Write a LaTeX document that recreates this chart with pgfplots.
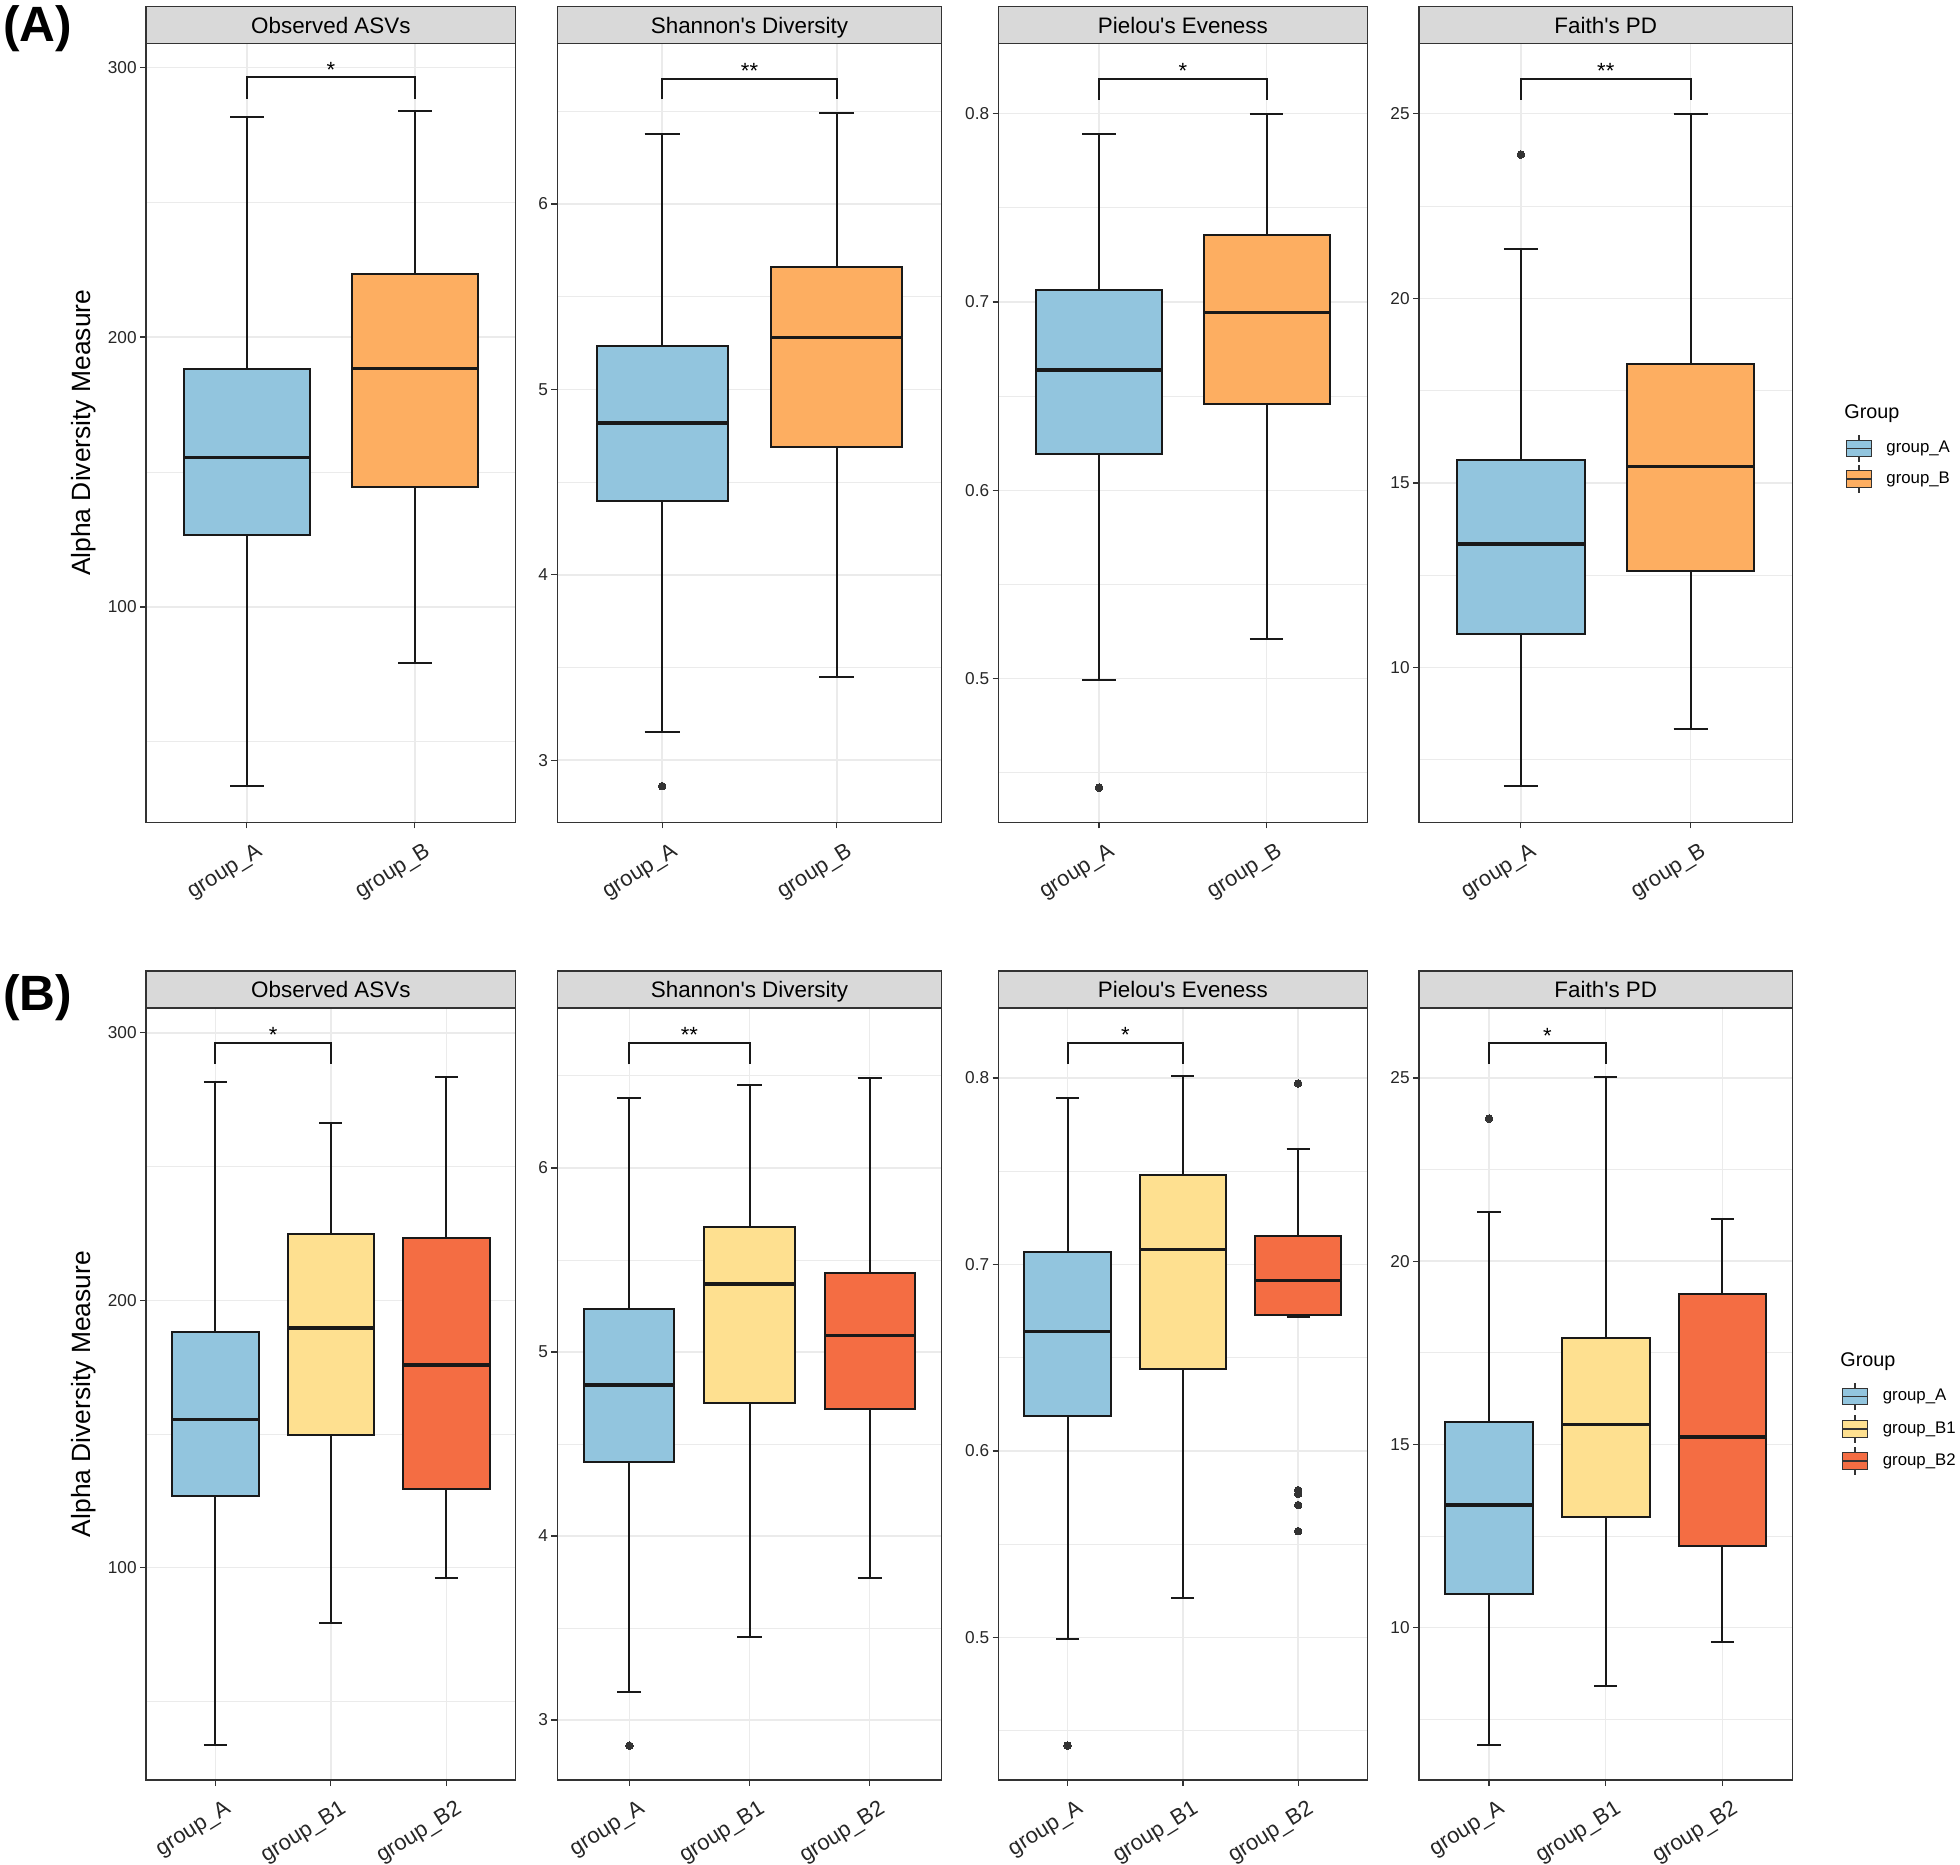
\documentclass[border=0pt]{standalone}
\usepackage{fontspec}
\setmainfont{Liberation Sans}
\usepackage{pgfplots}
\pgfplotsset{compat=1.18}
\usepgfplotslibrary{statistics}

\definecolor{cA}{HTML}{92C5DE}
\definecolor{cB}{HTML}{FDAE61}
\definecolor{cBa}{HTML}{FEE090}
\definecolor{cBb}{HTML}{F46D43}
\definecolor{gray20}{HTML}{333333}
\definecolor{grid92}{HTML}{EBEBEB}
\definecolor{stripgray}{HTML}{D9D9D9}

\newcommand\ticksize{\fontsize{8.6}{10}\selectfont}
\newcommand\xlabsize{\fontsize{11}{13}\selectfont}
\newcommand\stripsize{\fontsize{11.2}{13}\selectfont}
\newcommand\starsize{\fontsize{11}{13}\selectfont}
\newcommand\q{\textquotesingle}

\pgfplotsset{
  panel/.style={
    scale only axis, anchor=north west, clip=false,
    axis line style={draw=gray20, line width=0.6pt},
    xtick pos=bottom, ytick pos=left,
    tick align=outside, major tick length=3pt, minor tick length=0pt,
    tick style={draw=gray20, line width=0.6pt},
    ymajorgrids, yminorgrids, xmajorgrids,
    major grid style={draw=grid92, line width=0.7pt},
    minor grid style={draw=grid92, line width=0.4pt},
    yticklabel style={font=\ticksize, text=black!85, inner sep=1.5pt},
    xticklabel style={font=\xlabsize, text=black!85, xshift=4.5pt, yshift=-5pt,
      rotate=32, anchor=north east, inner sep=1pt},
    /pgf/number format/assume math mode=true,
    boxplot/draw direction=y,
    boxplot/box extend=0.75, boxplot/whisker extend=0.2,
    boxplot/every box/.style={line width=1pt},
    boxplot/every whisker/.style={line width=1pt},
    boxplot/every median/.style={line width=1.8pt},
  },
  bx/.style n args={6}{boxplot prepared={draw position=#1, lower whisker=#2,
    lower quartile=#3, median=#4, upper quartile=#5, upper whisker=#6},
    draw=black!90, line width=1pt, mark=*, mark size=1.9pt,
    mark options={fill=gray20, draw=gray20, line width=0pt}},
  brk/.style={draw=black!90, line width=1pt},
}

% strip on top of a named panel
\newcommand\strip[2]{%
  \draw[draw=gray20, fill=stripgray, line width=0.6pt] (#1.north west) rectangle ([yshift=18.5pt]#1.north east);
  \node[font=\stripsize, anchor=base, inner sep=0pt] at ([yshift=5pt]#1.north) {#2};}
\newcommand\sig[3]{\node[font=\starsize, anchor=base, inner sep=0pt] at (axis cs:#1,#2) {#3};}
\newcommand\key[3]{%
  \begin{scope}[shift={(#1,#2)}]
    \draw[gray20, line width=0.6pt] (0,-6.8pt) -- (0,6.8pt);
    \draw[fill=#3, draw=gray20, line width=0.6pt] (-6.2pt,-4.1pt) rectangle (6.2pt,4.1pt);
    \draw[gray20, line width=0.6pt] (-6.2pt,0) -- (6.2pt,0);
  \end{scope}}

\begin{document}
\begin{tikzpicture}
\useasboundingbox (0,0) rectangle (980pt,932pt);

%% ---------------- (A) ----------------
\begin{axis}[panel, name=a1, at={(73pt,910.25pt)}, width=184.85pt, height=389.4pt,
  xmin=0.4, xmax=2.6, ymin=20.2, ymax=308.8,
  xtick={1,2}, xticklabels={group\_A,group\_B},
  ytick={100,200,300}, minor ytick={50,150,250}]
\addplot[bx={1}{33.7}{126.7}{155.4}{188.2}{281.6}, fill=cA] coordinates {};
\addplot[bx={2}{79.4}{144.6}{188.4}{223.5}{283.6}, fill=cB] coordinates {};
\addplot[brk] coordinates {(1,288.4) (1,296.3) (2,296.3) (2,288.4)};
\sig{1.5}{296.3}{*}
\end{axis}

\begin{axis}[panel, name=a2, at={(278.65pt,910.25pt)}, width=192.2pt, height=389.4pt,
  xmin=0.4, xmax=2.6, ymin=2.665, ymax=6.866,
  xtick={1,2}, xticklabels={group\_A,group\_B},
  ytick={3,4,5,6}, minor ytick={3.5,4.5,5.5,6.5}]
\addplot[bx={1}{3.15}{4.40}{4.82}{5.235}{6.38}, fill=cA] coordinates {(1,2.86)};
\addplot[bx={2}{3.45}{4.69}{5.28}{5.66}{6.49}, fill=cB] coordinates {};
\addplot[brk] coordinates {(1,6.565) (1,6.675) (2,6.675) (2,6.565)};
\sig{1.5}{6.675}{**}
\end{axis}

\begin{axis}[panel, name=a3, at={(499.25pt,910.25pt)}, width=184.4pt, height=389.4pt,
  xmin=0.4, xmax=2.6, ymin=0.4236, ymax=0.8373,
  xtick={1,2}, xticklabels={group\_A,group\_B},
  ytick={0.5,0.6,0.7,0.8}, minor ytick={0.45,0.55,0.65,0.75}]
\addplot[bx={1}{0.499}{0.619}{0.664}{0.7065}{0.789}, fill=cA] coordinates {(1,0.442)};
\addplot[bx={2}{0.521}{0.646}{0.6945}{0.7356}{0.800}, fill=cB] coordinates {};
\addplot[brk] coordinates {(1,0.8073) (1,0.8185) (2,0.8185) (2,0.8073)};
\sig{1.5}{0.8185}{*}
\end{axis}

\begin{axis}[panel, name=a4, at={(709.5pt,910.25pt)}, width=186.75pt, height=389.4pt,
  xmin=0.4, xmax=2.6, ymin=5.81, ymax=26.90,
  xtick={1,2}, xticklabels={group\_A,group\_B},
  ytick={10,15,20,25}, minor ytick={7.5,12.5,17.5,22.5}]
\addplot[bx={1}{6.8}{10.92}{13.34}{15.62}{21.33}, fill=cA] coordinates {(1,23.89)};
\addplot[bx={2}{8.34}{12.61}{15.45}{18.23}{25.0}, fill=cB] coordinates {};
\addplot[brk] coordinates {(1,25.37) (1,25.95) (2,25.95) (2,25.37)};
\sig{1.5}{25.95}{**}
\end{axis}

%% ---------------- (B) ----------------
\begin{axis}[panel, name=b1, at={(73pt,428pt)}, width=184.85pt, height=386pt,
  xmin=0.4, xmax=3.6, ymin=20.6, ymax=309.3,
  xtick={1,2,3}, xticklabels={group\_A,group\_B1,group\_B2},
  ytick={100,200,300}, minor ytick={50,150,250}]
\addplot[bx={1}{33.7}{126.7}{155.4}{188.2}{281.6}, fill=cA] coordinates {};
\addplot[bx={2}{79.4}{149.5}{189.7}{224.8}{266.4}, fill=cBa] coordinates {};
\addplot[bx={3}{96.3}{129.4}{175.7}{223.4}{283.6}, fill=cBb] coordinates {};
\addplot[brk] coordinates {(1,288.3) (1,296.3) (2,296.3) (2,288.3)};
\sig{1.5}{296.3}{*}
\end{axis}

\begin{axis}[panel, name=b2, at={(278.65pt,428pt)}, width=192.2pt, height=386pt,
  xmin=0.4, xmax=3.6, ymin=2.674, ymax=6.869,
  xtick={1,2,3}, xticklabels={group\_A,group\_B1,group\_B2},
  ytick={3,4,5,6}, minor ytick={3.5,4.5,5.5,6.5}]
\addplot[bx={1}{3.15}{4.40}{4.82}{5.235}{6.38}, fill=cA] coordinates {(1,2.86)};
\addplot[bx={2}{3.45}{4.72}{5.37}{5.68}{6.45}, fill=cBa] coordinates {};
\addplot[bx={3}{3.77}{4.69}{5.09}{5.43}{6.49}, fill=cBb] coordinates {};
\addplot[brk] coordinates {(1,6.563) (1,6.679) (2,6.679) (2,6.563)};
\sig{1.5}{6.679}{**}
\end{axis}

\begin{axis}[panel, name=b3, at={(499.25pt,428pt)}, width=184.4pt, height=386pt,
  xmin=0.4, xmax=3.6, ymin=0.4236, ymax=0.8375,
  xtick={1,2,3}, xticklabels={group\_A,group\_B1,group\_B2},
  ytick={0.5,0.6,0.7,0.8}, minor ytick={0.45,0.55,0.65,0.75}]
\addplot[bx={1}{0.499}{0.619}{0.664}{0.7065}{0.789}, fill=cA] coordinates {(1,0.442)};
\addplot[bx={2}{0.521}{0.644}{0.708}{0.748}{0.801}, fill=cBa] coordinates {};
\addplot[bx={3}{0.672}{0.673}{0.6915}{0.715}{0.762}, fill=cBb]
  coordinates {(3,0.797) (3,0.579) (3,0.577) (3,0.571) (3,0.557)};
\addplot[brk] coordinates {(1,0.8074) (1,0.8188) (2,0.8188) (2,0.8074)};
\sig{1.5}{0.8188}{*}
\end{axis}

\begin{axis}[panel, name=b4, at={(709.5pt,428pt)}, width=186.75pt, height=386pt,
  xmin=0.4, xmax=3.6, ymin=5.84, ymax=26.91,
  xtick={1,2,3}, xticklabels={group\_A,group\_B1,group\_B2},
  ytick={10,15,20,25}, minor ytick={7.5,12.5,17.5,22.5}]
\addplot[bx={1}{6.8}{10.92}{13.34}{15.62}{21.33}, fill=cA] coordinates {(1,23.89)};
\addplot[bx={2}{8.40}{13.03}{15.54}{17.89}{25.03}, fill=cBa] coordinates {};
\addplot[bx={3}{9.6}{12.24}{15.2}{19.1}{21.16}, fill=cBb] coordinates {};
\addplot[brk] coordinates {(1,25.375) (1,25.95) (2,25.95) (2,25.375)};
\sig{1.5}{25.95}{*}
\end{axis}

%% strips
\strip{a1}{Observed ASVs}
\strip{a2}{Shannon\q s Diversity}
\strip{a3}{Pielou\q s Eveness}
\strip{a4}{Faith\q s PD}
\strip{b1}{Observed ASVs}
\strip{b2}{Shannon\q s Diversity}
\strip{b3}{Pielou\q s Eveness}
\strip{b4}{Faith\q s PD}

%% panel tags and y labels
\node[font=\fontsize{24.8}{28}\selectfont\bfseries] at (18.75pt,917.5pt) {(A)};
\node[font=\fontsize{24.8}{28}\selectfont\bfseries] at (18.75pt,433pt) {(B)};
\node[font=\fontsize{13.2}{15}\selectfont, rotate=90] at (42pt,715.6pt) {Alpha Diversity Measure};
\node[font=\fontsize{13.2}{15}\selectfont, rotate=90] at (42pt,235pt) {Alpha Diversity Measure};

%% legends
\node[font=\fontsize{9.9}{12}\selectfont, anchor=west, inner sep=0pt] at (922pt,725.3pt) {Group};
\key{929.5pt}{707.8pt}{cA}
\key{929.5pt}{692.5pt}{cB}
\node[font=\fontsize{8.4}{10}\selectfont, anchor=west, inner sep=0pt] at (943pt,707.8pt) {group\_A};
\node[font=\fontsize{8.4}{10}\selectfont, anchor=west, inner sep=0pt] at (943pt,692.5pt) {group\_B};

\node[font=\fontsize{9.9}{12}\selectfont, anchor=west, inner sep=0pt] at (920pt,251.2pt) {Group};
\key{927.5pt}{233.7pt}{cA}
\key{927.5pt}{217.5pt}{cBa}
\key{927.5pt}{201.5pt}{cBb}
\node[font=\fontsize{8.4}{10}\selectfont, anchor=west, inner sep=0pt] at (941.2pt,233.7pt) {group\_A};
\node[font=\fontsize{8.4}{10}\selectfont, anchor=west, inner sep=0pt] at (941.2pt,217.5pt) {group\_B1};
\node[font=\fontsize{8.4}{10}\selectfont, anchor=west, inner sep=0pt] at (941.2pt,201.5pt) {group\_B2};
\end{tikzpicture}
\end{document}
